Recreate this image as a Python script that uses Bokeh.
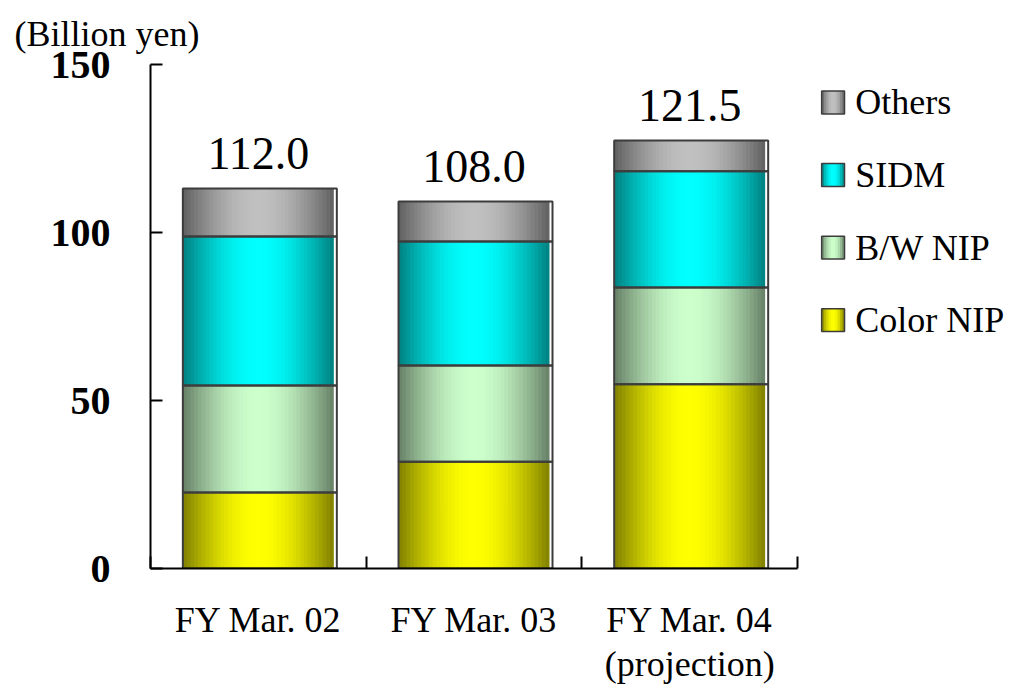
import numpy as np
from bokeh.plotting import figure
from bokeh.models import Range1d, FixedTicker, ColumnDataSource
from bokeh.core.properties import value
from bokeh.embed import file_html
from bokeh.resources import INLINE

# ---- data ----
categories = ["FY Mar. 02", "FY Mar. 03", "FY Mar. 04\n(projection)"]
series_names = ["Color NIP", "B/W NIP", "SIDM", "Others"]
color_nip = [22.6, 31.8, 54.8]
bw_nip = [31.9, 28.6, 28.8]
sidm = [44.3, 36.9, 34.6]
others = [14.3, 11.9, 9.2]
total_labels = ["112.0", "108.0", "121.5"]
y_ticks = [0, 50, 100, 150]

series_values = [color_nip, bw_nip, sidm, others]
base_colors = [(255, 255, 0), (204, 255, 204), (0, 255, 255), (192, 192, 192)]

FONT = "Liberation Serif"
BAR_W = 0.70
NSTRIP = 40
W, H = 1010, 686
BL, BT, FH = 150, 64, 504
PX_PER_X = 215.67
X_END = (W - BL) / PX_PER_X


def shade(rgb, t):
    f = 0.5 + 0.5 * np.sin(np.pi * t)
    r, g, b = (int(round(c * f)) for c in rgb)
    return "#%02x%02x%02x" % (r, g, b)


p = figure(width=W, height=H, x_range=Range1d(0, X_END), y_range=Range1d(0, 150),
           output_backend="svg", toolbar_location=None,
           min_border_left=BL, min_border_right=0, min_border_top=BT,
           min_border_bottom=H - BT - FH)
p.outline_line_color = None
p.xgrid.visible = False
p.ygrid.visible = False

# title used as the unit caption "(Billion yen)"
p.title.text = "(Billion yen)"
p.title.text_font = FONT
p.title.text_font_size = "36px"
p.title.text_font_style = "normal"
p.title.text_color = "black"
p.title.align = "left"
p.title.vertical_align = "top"
p.title.offset = -136
p.title.standoff = 18

# gradient strips
strips = dict(left=[], right=[], bottom=[], top=[], color=[])
outl = dict(left=[], right=[], bottom=[], top=[])
label_x, label_y = [], []
for i in range(len(categories)):
    base = 0.0
    x0 = i + 0.5 - BAR_W / 2
    for s, vals in enumerate(series_values):
        top = base + vals[i]
        dw = BAR_W / NSTRIP
        for k in range(NSTRIP):
            t = (k + 0.5) / NSTRIP
            strips["left"].append(x0 + k * dw)
            strips["right"].append(x0 + (k + 1) * dw + (dw * 0.6 if k < NSTRIP - 1 else 0))
            strips["bottom"].append(base)
            strips["top"].append(top)
            strips["color"].append(shade(base_colors[s], t))
        outl["left"].append(x0)
        outl["right"].append(x0 + BAR_W + 0.014)
        outl["bottom"].append(base)
        outl["top"].append(top)
        base = top
    label_x.append(i + 0.5)
    label_y.append(base + 10.5)

p.quad(left="left", right="right", bottom="bottom", top="top", fill_color="color",
       line_color=None, source=ColumnDataSource(strips))
p.quad(left="left", right="right", bottom="bottom", top="top", fill_color=None,
       line_color="#3c3c3c", line_width=2, source=ColumnDataSource(outl))

# value labels
p.text(x=label_x, y=label_y, text=total_labels, text_font=value(FONT),
       text_font_size="46px", text_align="center", text_baseline="alphabetic",
       text_color="black")

# legend (manual, gradient swatches)
leg = dict(left=[], right=[], bottom=[], top=[], color=[])
leg_o = dict(left=[], right=[], bottom=[], top=[])
lx0, lx1 = 3.112, 3.218
ly0, lstep, lh = 138.7, 21.6, 3.4
leg_names, leg_y = [], []
for j, s in enumerate(reversed(range(len(series_names)))):
    yc = ly0 - j * lstep
    n = 10
    dw = (lx1 - lx0) / n
    for k in range(n):
        t = (k + 0.5) / n
        leg["left"].append(lx0 + k * dw)
        leg["right"].append(lx0 + (k + 1) * dw + (dw * 0.5 if k < n - 1 else 0))
        leg["bottom"].append(yc - lh)
        leg["top"].append(yc + lh)
        leg["color"].append(shade(base_colors[s], t))
    leg_o["left"].append(lx0)
    leg_o["right"].append(lx1)
    leg_o["bottom"].append(yc - lh)
    leg_o["top"].append(yc + lh)
    leg_names.append(series_names[s])
    leg_y.append(yc)
p.quad(left="left", right="right", bottom="bottom", top="top", fill_color="color",
       line_color=None, source=ColumnDataSource(leg))
p.quad(left="left", right="right", bottom="bottom", top="top", fill_color=None,
       line_color="#3c3c3c", line_width=1.5, source=ColumnDataSource(leg_o))
p.text(x=[3.268] * len(leg_names), y=leg_y, text=leg_names, text_font=value(FONT),
       text_font_size="36px", text_align="left", text_baseline="middle", text_color="black")

# axes
xa = p.xaxis[0]
xa.ticker = FixedTicker(ticks=[i + 0.5 for i in range(len(categories))],
                        minor_ticks=list(range(len(categories) + 1)))
xa.major_label_overrides = {i + 0.5: c for i, c in enumerate(categories)}
xa.bounds = (0, len(categories))
xa.axis_line_width = 2
xa.axis_line_color = "black"
xa.major_tick_line_color = None
xa.minor_tick_in = 12
xa.minor_tick_out = 0
xa.minor_tick_line_width = 2
xa.minor_tick_line_color = "black"
xa.major_label_text_font = FONT
xa.major_label_text_font_size = "36px"
xa.major_label_text_color = "black"
xa.major_label_text_line_height = 1.1
xa.major_label_standoff = 25

ya = p.yaxis[0]
ya.ticker = FixedTicker(ticks=y_ticks, minor_ticks=[])
ya.bounds = (0, 150)
ya.axis_line_width = 2
ya.axis_line_color = "black"
ya.major_tick_in = 12
ya.major_tick_out = 0
ya.major_tick_line_width = 2
ya.major_tick_line_color = "black"
ya.major_label_text_font = FONT
ya.major_label_text_font_style = "bold"
ya.major_label_text_font_size = "40px"
ya.major_label_text_color = "black"
ya.major_label_standoff = 40

open("out.html", "w").write(file_html(p, INLINE))
